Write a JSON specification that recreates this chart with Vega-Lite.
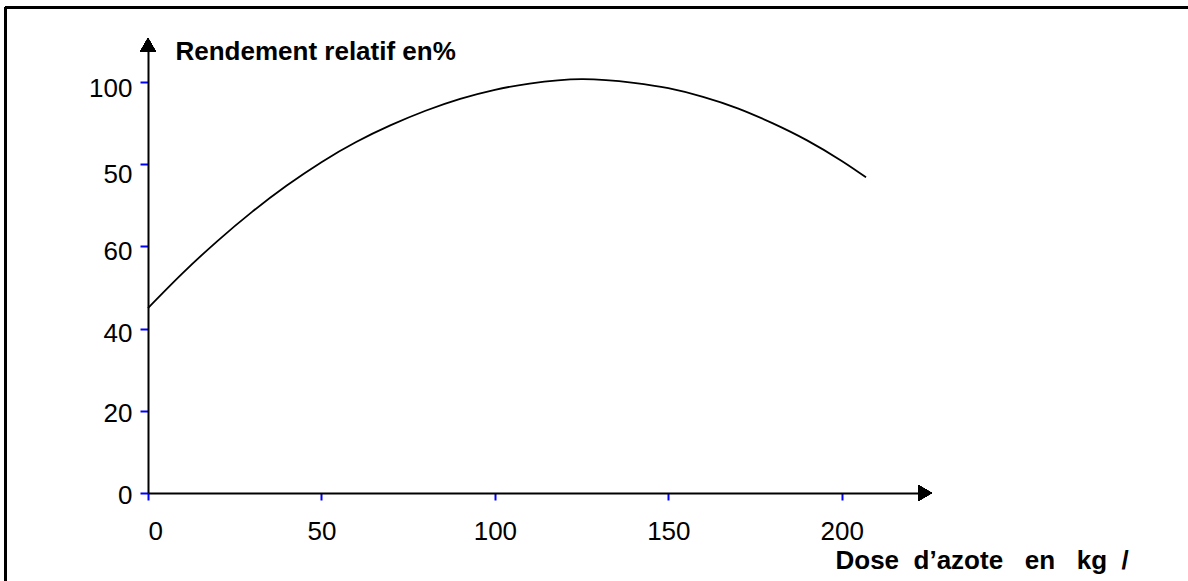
{
  "$schema": "https://vega.github.io/schema/vega-lite/v6.json",
  "width": 777,
  "height": 448,
  "autosize": {"type": "none"},
  "padding": {"left": 148, "top": 45, "right": 263, "bottom": 88},
  "background": "white",
  "config": {
    "view": {"stroke": null},
    "axis": {
      "grid": false,
      "domainColor": "black",
      "domainWidth": 2,
      "tickColor": "#0000ff",
      "tickWidth": 2,
      "labelFont": "Liberation Sans",
      "labelFontSize": 26,
      "labelColor": "black",
      "titleFont": "Liberation Sans",
      "titleColor": "black",
      "titleFontWeight": "bold"
    }
  },
  "data": {
    "values": [
      {"dose": 0, "rendement": 45.0},
      {"dose": 10, "rendement": 53.5},
      {"dose": 20, "rendement": 61.3},
      {"dose": 30, "rendement": 68.4},
      {"dose": 40, "rendement": 74.8},
      {"dose": 50, "rendement": 80.5},
      {"dose": 60, "rendement": 85.4},
      {"dose": 70, "rendement": 89.5},
      {"dose": 80, "rendement": 93.0},
      {"dose": 90, "rendement": 95.9},
      {"dose": 100, "rendement": 98.1},
      {"dose": 110, "rendement": 99.6},
      {"dose": 125, "rendement": 100.7},
      {"dose": 140, "rendement": 99.8},
      {"dose": 150, "rendement": 98.5},
      {"dose": 160, "rendement": 96.4},
      {"dose": 170, "rendement": 93.6},
      {"dose": 180, "rendement": 90.0},
      {"dose": 190, "rendement": 85.8},
      {"dose": 200, "rendement": 80.8},
      {"dose": 207, "rendement": 76.8}
    ]
  },
  "layer": [
    {
      "mark": {"type": "line", "color": "black", "strokeWidth": 1.8, "interpolate": "natural"},
      "encoding": {
        "x": {
          "field": "dose",
          "type": "quantitative",
          "scale": {"domain": [0, 224], "nice": false, "zero": false},
          "axis": {
            "values": [0, 50, 100, 150, 200],
            "tickSize": 7,
            "labelPadding": 18,
            "title": "Dose\u00a0\u00a0d’azote\u00a0\u00a0\u00a0en\u00a0\u00a0\u00a0kg\u00a0\u00a0/",
            "titleFontSize": 26,
            "titleAlign": "left",
            "titleAnchor": "start",
            "titleBaseline": "alphabetic",
            "titleX": 687,
            "titleY": 75
          }
        },
        "y": {
          "field": "rendement",
          "type": "quantitative",
          "scale": {"domain": [0, 109], "nice": false, "zero": false},
          "axis": {
            "values": [0, 20, 40, 60, 80, 100],
            "labelExpr": "datum.value == 80 ? '50' : datum.label",
            "tickSize": 8,
            "labelPadding": 8,
            "labelOffset": {
              "condition": [
                {"test": "datum.value == 0", "value": 2},
                {"test": "datum.value == 20", "value": 3},
                {"test": "datum.value == 80", "value": 10},
                {"test": "datum.value == 100", "value": 7}
              ],
              "value": 5
            },
            "title": "Rendement relatif en%",
            "titleFontSize": 26,
            "titleAngle": 0,
            "titleAlign": "left",
            "titleAnchor": "start",
            "titleBaseline": "alphabetic",
            "titleX": 27,
            "titleY": 14
          }
        }
      }
    },
    {
      "mark": {"type": "point", "shape": "triangle-up", "filled": true, "color": "black", "opacity": 1, "size": 256},
      "encoding": {
        "x": {"datum": 0, "type": "quantitative", "scale": {"domain": [0, 224], "nice": false, "zero": false}},
        "y": {"datum": 109, "type": "quantitative", "scale": {"domain": [0, 109], "nice": false, "zero": false}}
      }
    },
    {
      "mark": {"type": "point", "shape": "triangle-right", "filled": true, "color": "black", "opacity": 1, "size": 256},
      "encoding": {
        "x": {"datum": 224, "type": "quantitative", "scale": {"domain": [0, 224], "nice": false, "zero": false}},
        "y": {"datum": 0, "type": "quantitative", "scale": {"domain": [0, 109], "nice": false, "zero": false}}
      }
    },
    {
      "mark": {"type": "rule", "color": "black", "strokeWidth": 2},
      "encoding": {
        "x": {"datum": -41.1, "type": "quantitative", "scale": {"domain": [0, 224], "nice": false, "zero": false}},
        "x2": {"datum": 320},
        "y": {"datum": 118.1, "type": "quantitative", "scale": {"domain": [0, 109], "nice": false, "zero": false}}
      }
    },
    {
      "mark": {"type": "rule", "color": "black", "strokeWidth": 2},
      "encoding": {
        "x": {"datum": -41.1, "type": "quantitative", "scale": {"domain": [0, 224], "nice": false, "zero": false}},
        "y": {"datum": 118.1, "type": "quantitative", "scale": {"domain": [0, 109], "nice": false, "zero": false}},
        "y2": {"datum": -30}
      }
    }
  ]
}
